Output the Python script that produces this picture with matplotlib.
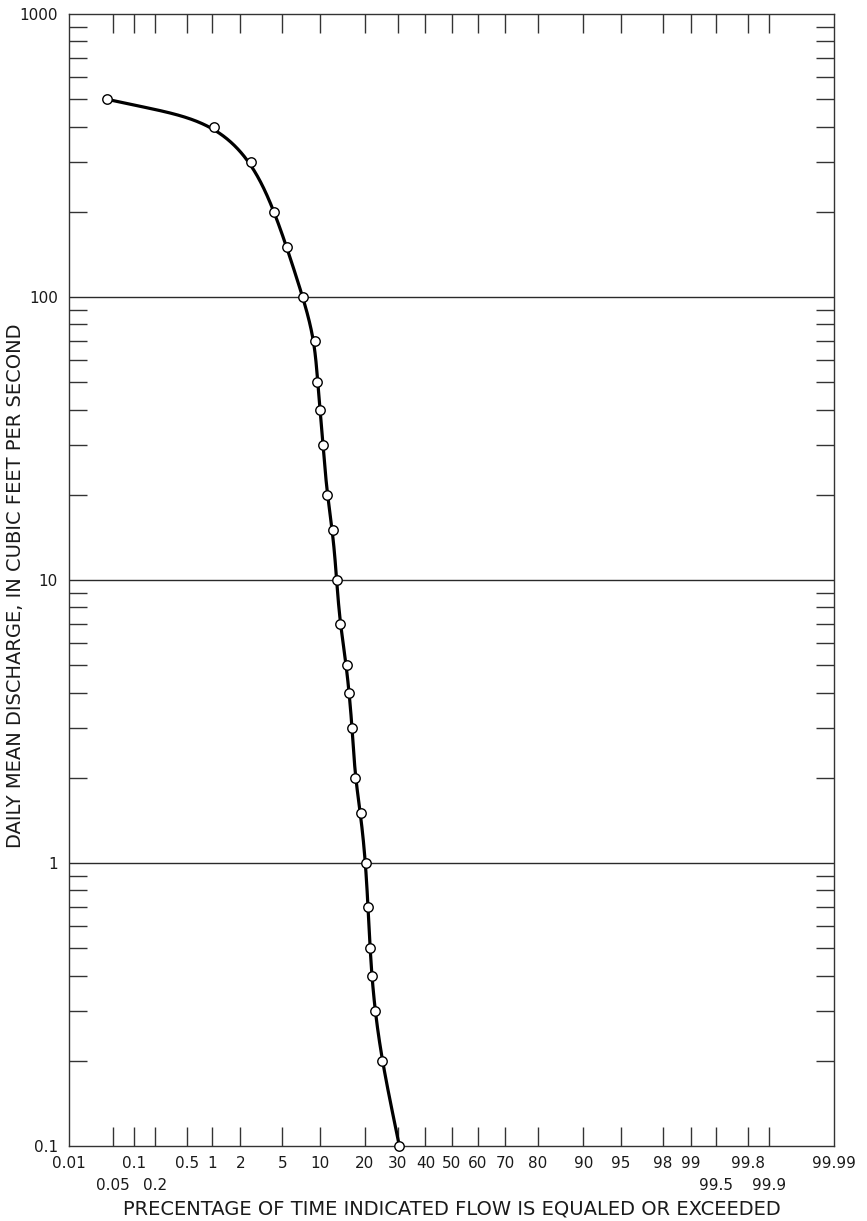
import numpy as np
import matplotlib
matplotlib.use("Agg")
import matplotlib.pyplot as plt
from matplotlib.ticker import FixedLocator, NullLocator, LogLocator, NullFormatter
from matplotlib.transforms import blended_transform_factory
from statistics import NormalDist
from math import erf, sqrt

# Flow-duration data
pct_exceeded = [0.04, 1.05, 2.55, 4.25, 5.45, 7.4, 9.2, 9.6, 10.05, 10.6, 11.3,
                12.4, 13.2, 13.9, 15.4, 15.95, 16.75, 17.4, 18.85, 20.15, 20.85,
                21.4, 21.9, 22.85, 25.05, 30.6]
discharge = [500, 400, 300, 200, 150, 100, 70, 50, 40, 30, 20, 15, 10, 7, 5, 4,
             3, 2, 1.5, 1, 0.7, 0.5, 0.4, 0.3, 0.2, 0.1]

x_ticks = [0.01, 0.05, 0.1, 0.2, 0.5, 1, 2, 5, 10, 20, 30, 40, 50, 60, 70, 80,
           90, 95, 98, 99, 99.5, 99.8, 99.9, 99.99]
lower_row = [0.05, 0.2, 99.5, 99.9]
y_ticks = [0.1, 1, 10, 100, 1000]
y_tick_labels = ["0.1", "1", "10", "100", "1000"]

nd = NormalDist()
_ppf = np.vectorize(lambda p: nd.inv_cdf(p), otypes=[float])
_cdf = np.vectorize(lambda z: 0.5 * (1 + erf(z / sqrt(2))), otypes=[float])


def prob_fwd(p):
    p = np.clip(np.asarray(p, dtype=float) / 100.0, 1e-9, 1 - 1e-9)
    return _ppf(p)


def prob_inv(z):
    return 100.0 * _cdf(np.asarray(z, dtype=float))


def catmull_rom(P, n=40):
    # centripetal Catmull-Rom through the points
    P = np.vstack([2 * P[0] - P[1], P, 2 * P[-1] - P[-2]])
    out = []
    for i in range(1, len(P) - 2):
        p0, p1, p2, p3 = P[i - 1], P[i], P[i + 1], P[i + 2]
        t0 = 0.0
        t1 = t0 + np.linalg.norm(p1 - p0) ** 0.5
        t2 = t1 + np.linalg.norm(p2 - p1) ** 0.5
        t3 = t2 + np.linalg.norm(p3 - p2) ** 0.5
        t = np.linspace(t1, t2, n)[:, None]
        A1 = (t1 - t) / (t1 - t0) * p0 + (t - t0) / (t1 - t0) * p1
        A2 = (t2 - t) / (t2 - t1) * p1 + (t - t1) / (t2 - t1) * p2
        A3 = (t3 - t) / (t3 - t2) * p2 + (t - t2) / (t3 - t2) * p3
        B1 = (t2 - t) / (t2 - t0) * A1 + (t - t0) / (t2 - t0) * A2
        B2 = (t3 - t) / (t3 - t1) * A2 + (t - t1) / (t3 - t1) * A3
        out.append((t2 - t) / (t2 - t1) * B1 + (t - t1) / (t2 - t1) * B2)
    return np.vstack(out)


def smooth_path(C, sigma=24.0):
    # resample by arc length, then gaussian smooth (ends held by odd reflection)
    seg = np.linalg.norm(np.diff(C, axis=0), axis=1)
    s = np.concatenate([[0], np.cumsum(seg)])
    su = np.arange(0, s[-1], 1.0)
    R = np.column_stack([np.interp(su, s, C[:, 0]), np.interp(su, s, C[:, 1])])
    k = int(3 * sigma)
    head = 2 * R[0] - R[1:k + 1][::-1]
    tail = 2 * R[-1] - R[-k - 1:-1][::-1]
    Rp = np.vstack([head, R, tail])
    w = np.exp(-0.5 * (np.arange(-k, k + 1) / sigma) ** 2)
    w /= w.sum()
    out = np.column_stack([np.convolve(Rp[:, 0], w, mode="valid"),
                           np.convolve(Rp[:, 1], w, mode="valid")])
    return out


plt.rcParams["font.family"] = "DejaVu Sans"
ink = "#1a1a1a"

fig = plt.figure(figsize=(8.67, 12.21), dpi=100)
ax = fig.add_axes([0.0796, 0.0614, 0.8824, 0.9271])

ax.set_xscale("function", functions=(prob_fwd, prob_inv))
ax.set_yscale("log")
ax.set_xlim(0.01, 99.99)
ax.set_ylim(0.1, 1000)

# smooth hand-drawn style curve, built in pixel-proportional coordinates
sx, sy = 102.85, 282.75
pts = np.column_stack([prob_fwd(pct_exceeded) * sx, np.log10(discharge) * sy])
curve = smooth_path(catmull_rom(pts))
ax.plot(prob_inv(curve[:, 0] / sx), 10 ** (curve[:, 1] / sy), color="black",
        lw=2.3, zorder=3, solid_capstyle="round")
ax.plot(pct_exceeded, discharge, "o", ms=6.8, mfc="white", mec="black", mew=1.0,
        zorder=4, clip_on=False)

# gridlines at decades
for v in [1, 10, 100]:
    ax.axhline(v, color="#2a2a2a", lw=1.0, zorder=1)

# x ticks (second row labels placed separately)
ax.xaxis.set_major_locator(FixedLocator(x_ticks))
ax.set_xticklabels(["" if v in lower_row else "%g" % v for v in x_ticks])
ax.xaxis.set_minor_locator(NullLocator())
ax.tick_params(axis="x", which="major", direction="in", length=14, width=1.0,
               top=True, bottom=True, color="#333333", labelsize=11,
               labelcolor=ink, pad=7)
for t in (ax.xaxis.get_major_ticks()[0], ax.xaxis.get_major_ticks()[-1]):
    t.tick1line.set_visible(False)
    t.tick2line.set_visible(False)

trans = blended_transform_factory(ax.transData, ax.transAxes)
for v in lower_row:
    ax.text(v, -0.0345, "%g" % v, transform=trans, ha="center", va="center",
            fontsize=11, color=ink)

# y ticks
ax.yaxis.set_major_locator(FixedLocator(y_ticks))
ax.set_yticklabels(y_tick_labels)
ax.yaxis.set_minor_locator(LogLocator(base=10, subs=np.arange(2, 10)))
ax.yaxis.set_minor_formatter(NullFormatter())
ax.tick_params(axis="y", which="major", length=0, labelsize=11, labelcolor=ink,
               pad=8)
ax.tick_params(axis="y", which="minor", direction="in", length=13, width=1.0,
               left=True, right=True, color="#333333")

for sp in ax.spines.values():
    sp.set_color("#333333")
    sp.set_linewidth(1.0)

ax.set_xlabel("PRECENTAGE OF TIME INDICATED FLOW IS EQUALED OR EXCEEDED",
              fontsize=14, color=ink)
ax.xaxis.set_label_coords(0.5, -0.047)
ax.set_ylabel("DAILY MEAN DISCHARGE, IN CUBIC FEET PER SECOND", fontsize=14,
              color=ink)
ax.yaxis.set_label_coords(-0.058, 0.4947)

fig.savefig("out.png", dpi=100)
